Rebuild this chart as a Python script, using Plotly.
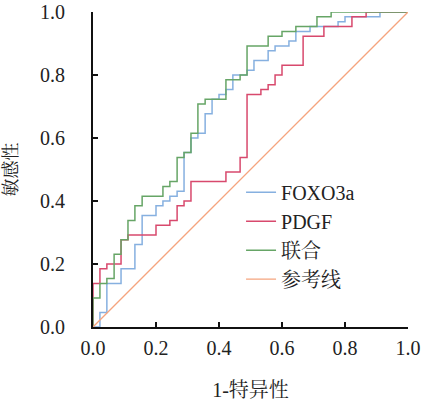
import plotly.graph_objects as go

# ROC curve data (1-specificity, sensitivity)
fox_fpr = [0, 0.022, 0.044, 0.089, 0.133, 0.156, 0.2, 0.222, 0.244, 0.267,
           0.289, 0.311, 0.333, 0.356, 0.378, 0.4, 0.422, 0.444, 0.489, 0.511,
           0.556, 0.578, 0.622, 0.644, 0.689, 0.778, 0.8, 0.911, 1.0]
fox_tpr = [0, 0.046, 0.138, 0.185, 0.262, 0.354, 0.385, 0.4, 0.415, 0.431,
           0.554, 0.6, 0.615, 0.677, 0.723, 0.738, 0.754, 0.8, 0.815, 0.846,
           0.877, 0.892, 0.908, 0.938, 0.954, 0.969, 0.985, 1.0, 1.0]

pdgf_fpr = [0, 0, 0.022, 0.044, 0.089, 0.111, 0.2, 0.244, 0.267, 0.289,
            0.311, 0.422, 0.467, 0.489, 0.533, 0.556, 0.578, 0.6, 0.667, 0.733,
            0.822, 0.867, 1.0]
pdgf_tpr = [0, 0.138, 0.185, 0.2, 0.277, 0.292, 0.323, 0.338, 0.385, 0.4,
            0.462, 0.492, 0.538, 0.738, 0.754, 0.769, 0.8, 0.831, 0.923, 0.954,
            0.985, 1.0, 1.0]

comb_fpr = [0, 0, 0.022, 0.044, 0.067, 0.089, 0.111, 0.133, 0.156, 0.222,
            0.244, 0.267, 0.289, 0.311, 0.333, 0.356, 0.422, 0.467, 0.489, 0.556,
            0.6, 0.644, 0.711, 0.756, 1.0]
comb_tpr = [0, 0.092, 0.138, 0.154, 0.231, 0.277, 0.338, 0.385, 0.415, 0.446,
            0.462, 0.538, 0.554, 0.615, 0.708, 0.723, 0.785, 0.8, 0.892, 0.923,
            0.938, 0.954, 0.985, 1.0, 1.0]

ref_x = [0, 1]
ref_y = [0, 1]

names = ["FOXO3a", "PDGF", "联合", "参考线"]
colors = ["#86b0e0", "#d8496d", "#66a566", "#f5a47e"]
tick_vals = [0, 0.2, 0.4, 0.6, 0.8, 1.0]
tick_text = ["0.0", "0.2", "0.4", "0.6", "0.8", "1.0"]

FONT = "Liberation Serif, Noto Serif CJK SC, Noto Sans CJK SC, serif"

fig = go.Figure()
fig.add_trace(go.Scatter(x=fox_fpr, y=fox_tpr, mode="lines", line_shape="hv",
                         name=names[0], line=dict(color=colors[0], width=1.5)))
fig.add_trace(go.Scatter(x=pdgf_fpr, y=pdgf_tpr, mode="lines", line_shape="hv",
                         name=names[1], line=dict(color=colors[1], width=1.5)))
fig.add_trace(go.Scatter(x=comb_fpr, y=comb_tpr, mode="lines", line_shape="hv",
                         name=names[2], line=dict(color=colors[2], width=1.5)))
fig.add_trace(go.Scatter(x=ref_x, y=ref_y, mode="lines",
                         name=names[3], line=dict(color=colors[3], width=1.3)))

axis_common = dict(
    range=[0, 1], showgrid=False, zeroline=False, automargin=False,
    showline=True, linecolor="#111", linewidth=2,
    ticks="inside", ticklen=5, tickwidth=1.6, tickcolor="#111",
    tickvals=tick_vals, ticktext=tick_text, ticklabeloverflow="allow",
    tickfont=dict(family=FONT, size=20, color="#222"),
)

fig.update_layout(
    width=426, height=401,
    margin=dict(l=93, r=18, t=12, b=74),
    paper_bgcolor="white", plot_bgcolor="white",
    font=dict(family=FONT, size=20, color="#222"),
    xaxis=dict(**axis_common, ticklabelstandoff=2,
               title=dict(text="1-特异性", font=dict(family=FONT, size=20), standoff=26)),
    yaxis=dict(**axis_common, ticklabelstandoff=22,
               title=dict(text="敏感性", font=dict(family=FONT, size=18), standoff=18)),
    legend=dict(x=0.47, y=0.49, xanchor="left", yanchor="top",
                bgcolor="rgba(0,0,0,0)", font=dict(family=FONT, size=20, color="#222"),
                tracegroupgap=0, itemwidth=30),
    showlegend=True,
)

# remove the page's default body margin so the figure sits at the window origin
fig.write_html("out.html", config={"displayModeBar": False},
               post_script="document.body.style.margin='0';")
